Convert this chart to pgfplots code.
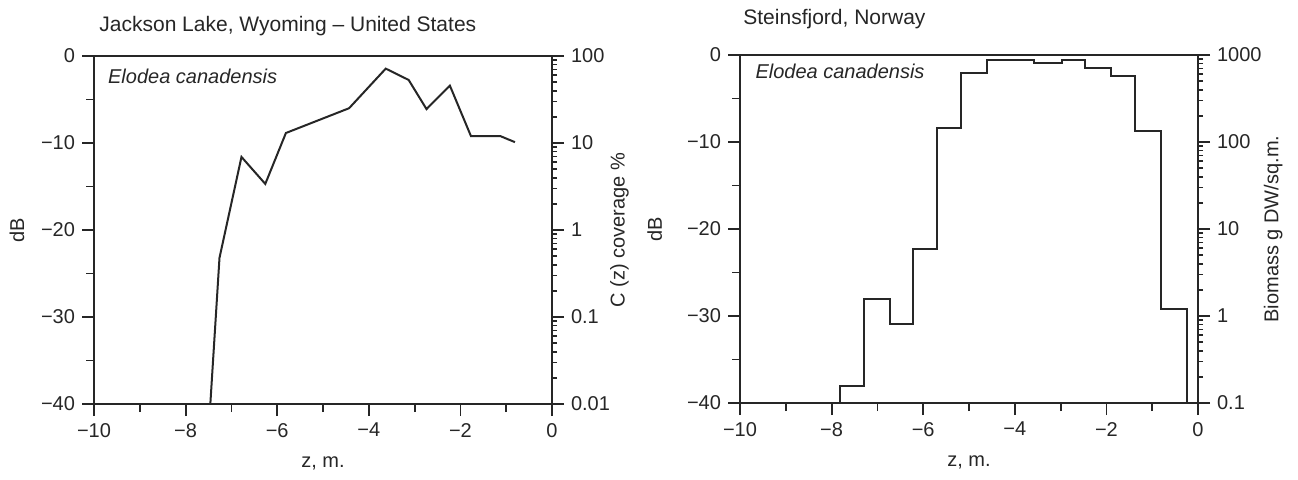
\documentclass[border=0pt]{standalone}
\usepackage{fontspec}
\setmainfont{Liberation Sans}
\usepackage{pgfplots}
\pgfplotsset{compat=1.18}

% depth profiles, dB vs depth z
\pgfplotstableread{
z db
-7.46 -40
-7.26 -23.2
-6.78 -11.6
-6.26 -14.7
-5.81 -8.85
-4.43 -6.0
-3.63 -1.45
-3.13 -2.75
-2.74 -6.1
-2.23 -3.4
-1.77 -9.2
-1.13 -9.2
-0.81 -9.9
}\jackson

\pgfplotstableread{
z db
-7.81 -40
-7.81 -38.0
-7.29 -28.1
-6.73 -30.9
-6.22 -22.3
-5.70 -8.4
-5.17 -2.1
-4.61 -0.53
-3.58 -0.9
-2.98 -0.53
-2.47 -1.55
-1.90 -2.46
-1.37 -8.7
-0.80 -29.2
-0.23 -40
}\steins

\pgfplotsset{
  base/.style={
    scale only axis, width=229pt, height=174pt,
    axis line style={line width=1pt, black!85},
    every tick/.style={line width=0.9pt, black!85},
    tick align=outside,
    major tick length=6pt, minor tick length=4pt,
    tick label style={font=\fontsize{10}{12}\selectfont, text=black!85},
    label style={font=\fontsize{10}{12}\selectfont, text=black!85},
  },
  dbaxis/.style={
    base,
    xmin=-10, xmax=0, ymin=-40, ymax=0,
    xtick={-10,-8,...,0}, xticklabels={−10,−8,−6,−4,−2,0},
    minor xtick={-9,-7,...,-1},
    ytick={-40,-30,...,0}, yticklabels={−40,−30,−20,−10,0},
    minor ytick={-35,-25,-15,-5},
    xtick pos=bottom, ytick pos=left,
    xlabel={z, m.}, ylabel={dB},
    xlabel style={at={(axis description cs:0.5,-0.172)}, anchor=center},
  },
  logaxis/.style={
    base,
    xmin=-10, xmax=0,
    axis y line*=right, hide x axis,
    minor tick length=2.5pt,
  },
}

\begin{document}
\begin{tikzpicture}
\path[use as bounding box] (0,0) rectangle (649pt,-239.5pt);

% Jackson Lake
\begin{axis}[dbaxis, at={(47pt,-202pt)}, anchor=south west,
  ylabel style={at={(axis description cs:-0.168,0.5)}, anchor=center}]
  \addplot[line width=1pt, black!85] table[x=z, y=db] {\jackson};
  \node[anchor=west, inner sep=0pt, font=\fontsize{10}{12}\selectfont\itshape, text=black!85]
    at (rel axis cs:0.03,0.942) {Elodea canadensis};
\end{axis}
\begin{axis}[ymode=log, logaxis, at={(47pt,-202pt)}, anchor=south west,
  ymin=0.01, ymax=100,
  ytick={0.01,0.1,1,10,100}, yticklabels={0.01,0.1,1,10,100},
  minor ytick={0.02,0.03,0.04,0.05,0.06,0.07,0.08,0.09,0.2,0.3,0.4,0.5,0.6,0.7,0.8,0.9,2,3,4,5,6,7,8,9,20,30,40,50,60,70,80,90},
  ylabel={C (z) coverage \%},
  ylabel style={at={(axis description cs:1.147,0.5)}, anchor=center}]
  \addplot[draw=none] coordinates {(-5,1)};
\end{axis}

% Steinsfjord
\begin{axis}[dbaxis, at={(370pt,-201.5pt)}, anchor=south west,
  ylabel style={at={(axis description cs:-0.186,0.5)}, anchor=center}]
  \addplot[const plot, line width=1pt, black!85] table[x=z, y=db] {\steins};
  \node[anchor=west, inner sep=0pt, font=\fontsize{10}{12}\selectfont\itshape, text=black!85]
    at (rel axis cs:0.033,0.954) {Elodea canadensis};
\end{axis}
\begin{axis}[ymode=log, logaxis, at={(370pt,-201.5pt)}, anchor=south west,
  ymin=0.1, ymax=1000,
  ytick={0.1,1,10,100,1000}, yticklabels={0.1,1,10,100,1000},
  minor ytick={0.2,0.3,0.4,0.5,0.6,0.7,0.8,0.9,2,3,4,5,6,7,8,9,20,30,40,50,60,70,80,90,200,300,400,500,600,700,800,900},
  ylabel={Biomass g DW/sq.m.},
  ylabel style={at={(axis description cs:1.164,0.5)}, anchor=center}]
  \addplot[draw=none] coordinates {(-5,1)};
\end{axis}

\node[anchor=base west, inner sep=0pt, font=\fontsize{10.5}{12}\selectfont, text=black!85]
  at (49.5pt,-15.5pt) {Jackson Lake, Wyoming -- United States};
\node[anchor=base west, inner sep=0pt, font=\fontsize{10.5}{12}\selectfont, text=black!85]
  at (371.5pt,-12pt) {Steinsfjord, Norway};
\end{tikzpicture}
\end{document}
